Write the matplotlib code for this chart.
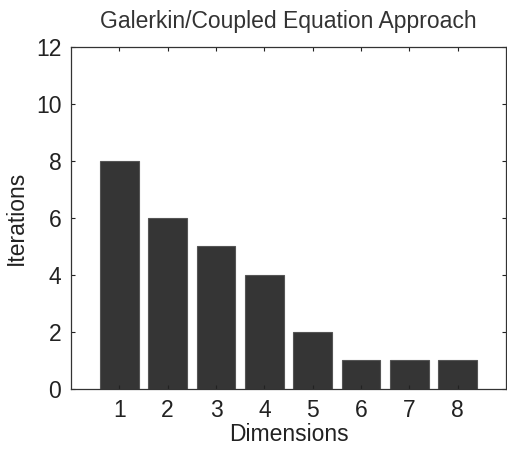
import matplotlib
matplotlib.use("Agg")
import matplotlib.pyplot as plt

# data
dimensions = [1, 2, 3, 4, 5, 6, 7, 8]
iterations = [8, 6, 5, 4, 2, 1, 1, 1]
y_ticks = [0, 2, 4, 6, 8, 10, 12]

plt.rcParams["font.family"] = ["Liberation Sans", "DejaVu Sans"]

fig = plt.figure(figsize=(5.07, 4.5), dpi=100)
ax = fig.add_axes([0.140, 0.1356, 0.858, 0.760])

ax.bar(dimensions, iterations, width=0.8, color="#353535",
       edgecolor="#555555", linewidth=0.8)

ax.set_xlim(0, 9)
ax.set_ylim(0, 12)
ax.set_xticks(dimensions)
ax.set_yticks(y_ticks)
ax.tick_params(direction="in", length=3, width=0.8, top=True, right=True,
               labelsize=16.5, colors="#222222", pad=7)
for s in ax.spines.values():
    s.set_linewidth(0.9)
    s.set_color("#333333")

ax.set_title("Galerkin/Coupled Equation Approach", fontsize=16.5, color="#333333", pad=14)
ax.set_xlabel("Dimensions", fontsize=16.5, color="#222222", labelpad=1)
ax.set_ylabel("Iterations", fontsize=16.5, color="#222222", labelpad=6)

plt.savefig("out.png", dpi=100)
